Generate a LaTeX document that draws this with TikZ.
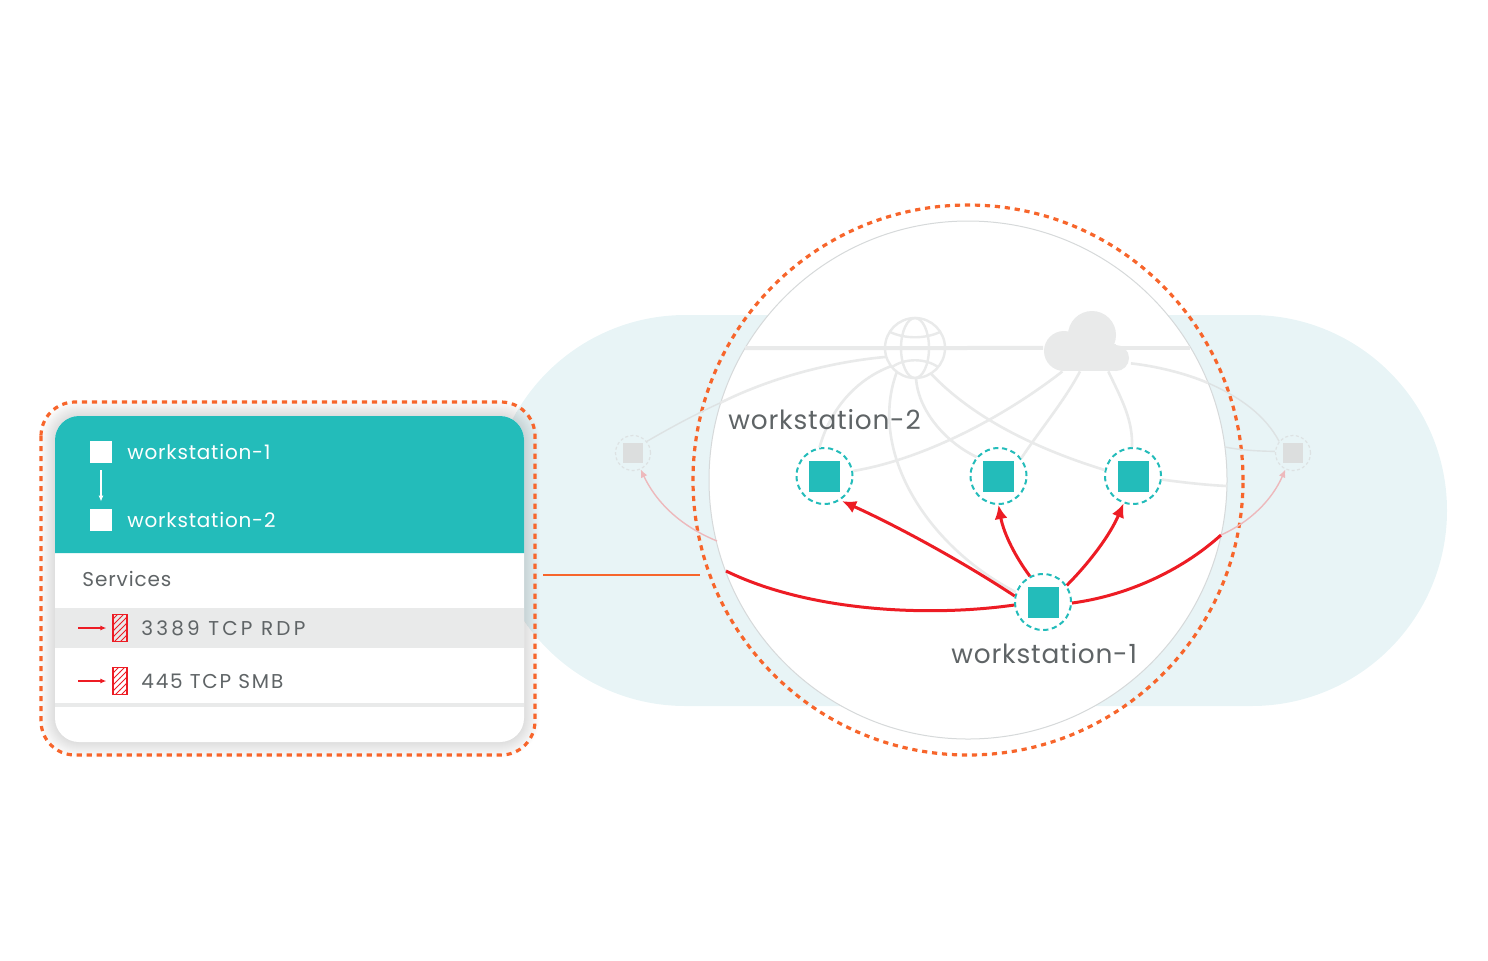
\documentclass[tikz,border=0pt]{standalone}
\usepackage{fontspec}
\setmainfont{Poppins}
\usepackage{xcolor}
\usetikzlibrary{arrows.meta,positioning,patterns}
\definecolor{tealfill}{HTML}{23BCBA}
\definecolor{paleband}{HTML}{E8F4F6}
\definecolor{linkgrey}{HTML}{E9EAEA}
\definecolor{rimgrey}{HTML}{D6D9DA}
\definecolor{fadegrey}{HTML}{DDE2E3}
\definecolor{boxgrey}{HTML}{DCDEDE}
\definecolor{textgrey}{HTML}{5F6466}
\definecolor{dashorange}{HTML}{F7652B}
\definecolor{alertred}{HTML}{ED1C24}
\definecolor{fadered}{HTML}{EDB9BC}
\tikzset{
  wsring/.style={circle,draw=tealfill,fill=white,line width=1pt,dash pattern=on 2.6pt off 1.8pt,minimum size=28pt,inner sep=0pt},
  wsbox/.style={rectangle,fill=tealfill,minimum size=15.5pt,inner sep=0pt},
  ghostring/.style={circle,draw=fadegrey,line width=.6pt,dash pattern=on 1.5pt off 1.2pt,minimum size=17.5pt,inner sep=0pt},
  ghostbox/.style={rectangle,fill=boxgrey,minimum size=10pt,inner sep=0pt},
  link/.style={draw=linkgrey,line width=1.3pt},
  trunk/.style={draw=linkgrey,line width=2pt},
  fadelink/.style={draw=fadegrey,line width=.7pt},
  redlink/.style={draw=alertred,line width=1.5pt,-{Latex[length=7pt,width=6.5pt]}},
  redplain/.style={draw=alertred,line width=1.5pt},
  fadearrow/.style={draw=fadered,line width=.7pt,-{Latex[length=4pt,width=3.5pt]}},
  smallred/.style={draw=alertred,line width=.6pt,-{Latex[length=3pt,width=2.5pt]},shorten >=3pt},
  hatchbox/.style={rectangle,draw=alertred,line width=.6pt,pattern=north east lines,pattern color=alertred,minimum width=7pt,minimum height=13.5pt,inner sep=0pt},
  whitebox/.style={rectangle,fill=white,minimum size=11pt,inner sep=0pt},
  paneltext/.style={anchor=base west,inner sep=0pt,text=white,font=\fontsize{10}{12}\selectfont\addfontfeature{LetterSpace=4}},
  rowtext/.style={anchor=base west,inner sep=0pt,text=textgrey,font=\fontsize{10}{12}\selectfont\addfontfeature{LetterSpace=#1}},
  bigtext/.style={anchor=base west,inner sep=0pt,text=textgrey,font=\fontsize{13.2}{16}\selectfont\addfontfeature{LetterSpace=3}}
}
\begin{document}
\begin{tikzpicture}[x=.5pt,y=-.5pt]
\useasboundingbox (0,0) rectangle (1488,960);
% band and circles
\fill[paleband,rounded corners=97.75pt] (490,315) rectangle (1447,706);
\node[circle,fill=white,draw=rimgrey,line width=.5pt,minimum size=259pt,inner sep=0pt] (disc) at (968,480) {};
\node[circle,draw=dashorange,line width=1.6pt,dash pattern=on 2.6pt off 2.4pt,minimum size=275pt,inner sep=0pt] (halo) at (968,480) {};
% anchors only, filled further down
\node[circle,minimum size=30pt,inner sep=0pt] (globe) at (915,348) {};
\node[rectangle,minimum width=43.5pt,minimum height=30pt,inner sep=0pt] (cloud) at (1087,341) {};
\node[wsring] (wsB) at (824.5,476) {};
\node[wsring] (wsC) at (998.5,476) {};
\node[wsring] (wsD) at (1133,476) {};
\node[wsring] (wsA) at (1043,602) {};
\node[ghostring] (ghostL) at (633,453) {};
\node[ghostring] (ghostR) at (1293,453) {};
\coordinate (trunkL) at (745,348);
\coordinate (trunkR) at (1190,348);
\coordinate (cloudR) at (1118,348);
\coordinate (rimNW) at (720,403);
\coordinate (rimNE) at (1208,383);
\coordinate (rimE) at (1225,447);
\coordinate (rimSE) at (1227,486);
\coordinate (rimRed) at (1221,535);
\coordinate (rimW) at (726,571);
\coordinate (rimPink) at (717,541);
% grey links
\path[trunk] (trunkL) -- (globe.180) -- (globe.0) -- (cloud.189);
\path[trunk] (cloudR) -- (trunkR);
\path[link] (globe.197) .. controls (830,362) and (770,378) .. (rimNW);
\path[link] (globe.217) .. controls (855,380) and (830,410) .. (wsB.100);
\path[link] (globe.233) .. controls (868,450) and (925,545) .. (wsA.160);
\path[link] (globe.272) .. controls (918,410) and (945,442) .. (wsC.139);
\path[link] (globe.302) .. controls (975,420) and (1040,450) .. (wsD.168);
\path[link] (wsD.-7) .. controls (1180,482) and (1205,485) .. (rimSE);
\path[link] (wsB.10) .. controls (920,460) and (1000,420) .. (cloud.231);
\path[link] (wsC.38) .. controls (1040,430) and (1065,400) .. (cloud.257);
\path[link] (cloud.305) .. controls (1122,400) and (1133,420) .. (wsD.92);
\path[link] (cloud.333) .. controls (1155,366) and (1185,373) .. (rimNE);
\path[fadelink] (rimNW) .. controls (700,412) and (675,425) .. (ghostL.40);
\path[fadelink] (rimNE) .. controls (1240,397) and (1265,415) .. (ghostR.140);
\path[fadelink] (rimE) .. controls (1240,450) and (1255,451) .. (ghostR.175);
% globe and cloud
\draw[linkgrey,line width=1.2pt] (globe) circle [radius=30];
\draw[linkgrey,line width=1.2pt] (globe) ellipse [x radius=14,y radius=30];
\draw[linkgrey,line width=1.2pt] (890,332) .. controls (905,339) and (925,339) .. (940,332);
\draw[linkgrey,line width=1.2pt] (892,367) .. controls (905,358) and (925,358) .. (938,367);
\fill[linkgrey] (1092,335) circle [radius=24];
\fill[linkgrey] (1064,351) circle [radius=20];
\fill[linkgrey] (1116,358) circle [radius=13];
\fill[linkgrey] (1064,344) rectangle (1116,371);
% nodes
\node[wsbox] (boxB) at (wsB) {};
\node[wsbox] (boxC) at (wsC) {};
\node[wsbox] (boxD) at (wsD) {};
\node[wsbox] (boxA) at (wsA) {};
\node[ghostbox] (ghostboxL) at (ghostL) {};
\node[ghostbox] (ghostboxR) at (ghostR) {};
\node[bigtext] (labelB) at (728,429) {workstation-2};
\node[bigtext] (labelA) at (951,663) {workstation-1};
% red traffic
\path[redlink,shorten >=1pt] (wsA.168) .. controls (960,560) and (895,525) .. (wsB.303);
\path[redlink] (wsA.117) .. controls (1012,552) and (1003,530) .. (wsC.270);
\path[redlink] (wsA.35) .. controls (1090,562) and (1110,535) .. (wsD.251);
\path[redplain] (wsA.358) .. controls (1125,596) and (1180,572) .. (rimRed);
\path[redplain] (wsA.186) .. controls (930,617) and (810,612) .. (rimW);
\path[fadearrow] (rimPink) .. controls (690,530) and (660,510) .. (ghostL.-65);
\path[fadearrow] (rimRed) .. controls (1250,522) and (1272,500) .. (ghostR.-115);
% panel
\foreach \w in {2,4,...,32}
  \draw[black,opacity=.008,line width=\w*.5pt,rounded corners=12pt] (55,416) rectangle (524,742);
\fill[white,rounded corners=12pt] (55,416) rectangle (524,742);
\fill[tealfill] (55,553) [rounded corners=12pt] -- (55,416) -- (524,416) [sharp corners] -- (524,553) -- cycle;
\fill[linkgrey] (55,608) rectangle (524,648);
\fill[linkgrey] (55,703) rectangle (524,707);
\draw[dashorange,line width=1.6pt,dash pattern=on 2.6pt off 2.4pt,rounded corners=17pt] (41,402) rectangle (535,755);
\coordinate (tickL) at (543,575);
\coordinate (tickR) at (700,575);
\draw[dashorange,line width=.6pt] (tickL) -- (tickR);
\node[whitebox] (srcbox) at (101,452) {};
\node[whitebox] (dstbox) at (101,520) {};
\draw[white,line width=.6pt,-{Latex[length=3pt,width=2.5pt]},shorten <=3.5pt,shorten >=3.5pt] (srcbox) -- (dstbox);
\node[paneltext] (srclabel) at (127,459) {workstation-1};
\node[paneltext] (dstlabel) at (127,527) {workstation-2};
\node[rowtext=4.5] (services) at (82,586) {Services};
\node[hatchbox] (hatchA) at (120,628) {};
\node[hatchbox] (hatchB) at (120,681) {};
\coordinate (inA) at (78,628);
\coordinate (inB) at (78,681);
\draw[smallred] (inA) -- (hatchA);
\draw[smallred] (inB) -- (hatchB);
\node[rowtext=16] (rowA) at (141,635) {3389 TCP RDP};
\node[rowtext=9] (rowB) at (141,688) {445 TCP SMB};
\end{tikzpicture}
\end{document}
